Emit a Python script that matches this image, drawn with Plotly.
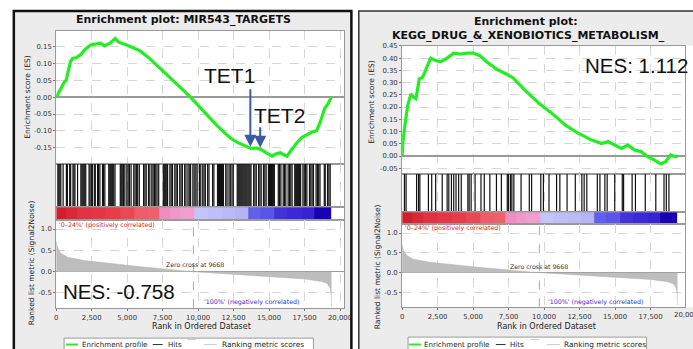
import plotly.graph_objects as go

W, H = 693, 349
def X(px): return px / W
def Y(py): return 1 - py / H

# ---------------- data ----------------
left_title = "Enrichment plot: MIR543_TARGETS"
right_title_1 = "Enrichment plot:"
right_title_2 = "KEGG_DRUG_&_XENOBIOTICS_METABOLISM_"

left_es_rank = [0, 150, 300, 575, 700, 920, 1000, 1150, 1400, 1730, 2000, 2420, 2800, 3110, 3400,
                3580, 3800, 4150, 4400, 4960, 5400, 5880, 6500, 7040, 7600, 8190, 8800, 9460,
                10100, 10730, 11300, 11880, 12300, 12800, 13300, 13720, 14100, 14420, 14800,
                15220, 15500, 15800, 16000, 16260, 16600, 16960, 17300, 17650, 18000, 18340,
                18600, 18910, 19150, 19380]
left_es_val = [0.0, 0.012, 0.02, 0.045, 0.05, 0.095, 0.105, 0.115, 0.117, 0.126, 0.14, 0.155, 0.158,
               0.16, 0.152, 0.156, 0.16, 0.174, 0.163, 0.155, 0.148, 0.138, 0.118, 0.097, 0.076,
               0.053, 0.027, 0.0, -0.03, -0.058, -0.083, -0.106, -0.122, -0.135, -0.145, -0.152,
               -0.151, -0.155, -0.165, -0.175, -0.168, -0.165, -0.170, -0.175, -0.155, -0.135,
               -0.120, -0.111, -0.104, -0.100, -0.075, -0.034, -0.02, 0.0]

right_es_rank = [0, 46, 163, 278, 394, 626, 800, 973, 1204, 1400, 1552, 1783, 2015, 2362, 2709,
                 3172, 3635, 4098, 4561, 5024, 5487, 5950, 6645, 7339, 7802, 8728, 9654, 10580,
                 11506, 12432, 13358, 14053, 14516, 14979, 15442, 15905, 16368, 16831, 17294,
                 17757, 18220, 18567, 18914, 19261, 19400]
right_es_val = [0.0, 0.051, 0.112, 0.159, 0.207, 0.254, 0.24, 0.234, 0.315, 0.32, 0.335, 0.369,
                0.40, 0.39, 0.385, 0.40, 0.42, 0.416, 0.42, 0.42, 0.41, 0.385, 0.355, 0.335, 0.32,
                0.265, 0.214, 0.173, 0.126, 0.092, 0.065, 0.051, 0.058, 0.045, 0.031, 0.045,
                0.024, 0.018, -0.003, -0.016, -0.032, -0.023, 0.004, -0.003, 0.0]

left_hits = [116, 185, 255, 324, 486, 718, 787, 949, 1019, 1181, 1250, 1320, 1505, 1737, 1806,
             1875, 1945, 2014, 2084, 2315, 2385, 2477, 2547, 2686, 2755, 2917, 2987, 3079, 3264,
             3334, 3426, 3704, 3774, 3843, 3913, 3982, 4052, 4144, 4515, 4584, 4653, 4746, 4839,
             4978, 5070, 5163, 5278, 5464, 5556, 5649, 5741, 5857, 6158, 6251, 6343, 6505, 6598,
             6737, 6829, 6922, 7015, 7107, 7223, 7547, 7617, 7686, 7756, 7848, 8010, 8103, 8195,
             8357, 8450, 8543, 8705, 8797, 8890, 9052, 9145, 9283, 9376, 9469, 9631, 9723, 9839,
             9932, 10094, 10186, 10325, 10418, 10510, 10672, 10765, 11020, 11112, 11367, 11436,
             11506, 11575, 11645, 11714, 11784, 11946, 12038, 12177, 12270, 12386, 12478, 12756,
             12825, 12895, 12964, 13034, 13103, 13173, 13242, 13312, 13381, 13450, 13520, 13589,
             13659, 13728, 13913, 14006, 14099, 14261, 14353, 14446, 14608, 14701, 14793, 14955,
             15025, 15094, 15164, 15233, 15302, 15372, 15650, 15742, 15835, 15997, 16090, 16182,
             16344, 16437, 16529, 16622, 16808, 16877, 16946, 17016, 17085, 17155, 17224, 17386,
             17479, 17571, 17664, 17849, 17942, 18034, 18127, 18312, 18405, 18497, 18590, 18891,
             18960, 19122, 19215, 19307]

right_hits = [162, 278, 1018, 1157, 1250, 1852, 2083, 2361, 2824, 3171, 3287, 3472, 3634, 3796,
              3982, 4167, 4630, 4722, 4861, 5139, 5556, 5787, 6181, 6644, 6991, 7408, 7500, 7639,
              7732, 7871, 8380, 8959, 9121, 9769, 9954, 10348, 10880, 11112, 11621, 12200, 12663,
              12825, 13010, 13751, 13936, 14283, 14445, 14978, 15510, 15603, 16205, 16437, 17131,
              17872, 18451, 18613, 18798]

metric_rank = [0, 100, 300, 800, 2000, 3500, 5000, 6500, 8000, 9668, 11500, 13500, 15500, 17500,
               18700, 19100, 19300, 19380, 19400]
metric_val = [0.70, 0.56, 0.44, 0.34, 0.26, 0.20, 0.15, 0.10, 0.05, 0.0, -0.04, -0.08, -0.12,
              -0.17, -0.23, -0.28, -0.38, -0.55, -0.82]

band_edges = [0, 700, 1500, 2500, 3500, 4500, 5500, 6500, 7250, 8000, 8700, 9700, 10700, 11700,
              12600, 13550, 14400, 15350, 16300, 17300, 18200, 19400]
band_values = [1.0, 0.95, 0.9, 0.88, 0.85, 0.8, 0.72, 0.7, 0.42, 0.38, 0.35, -0.22, -0.25, -0.27,
               -0.3, -0.62, -0.66, -0.8, -0.84, -0.86, -1.0]

zero_cross = 9668
x_ticks = [0, 2500, 5000, 7500, 10000, 12500, 15000, 17500, 20000]
x_ticktext = ["0", "2,500", "5,000", "7,500", "10,000", "12,500", "15,000", "17,500", "20,000"]
left_es_ticks = [-0.15, -0.10, -0.05, 0.0, 0.05, 0.10, 0.15]
left_es_text = ["-0.15", "-0.10", "-0.05", "0.00", "0.05", "0.10", "0.15"]
right_es_ticks = [-0.05, 0.0, 0.05, 0.10, 0.15, 0.20, 0.25, 0.30, 0.35, 0.40, 0.45]
right_es_text = ["-0.05", "0.00", "0.05", "0.10", "0.15", "0.20", "0.25", "0.30", "0.35", "0.40", "0.45"]
metric_ticks = [-0.5, 0.0, 0.5, 1.0]
metric_text = ["-0.5", "0.0", "0.5", "1.0"]
nes_left = "NES: -0.758"
nes_right = "NES: 1.112"
marker_genes = ["TET1", "TET2"]
marker_ranks = [13680, 14375]
marker_es = [-0.147, -0.150]

# ---------------- styling ----------------
GREEN = "#22ee22"
GRID = "#d6d6d6"
TICKF = dict(family="DejaVu Sans", size=6.9, color="#333")
PANEL = "#ececec"

band_colorscale = [
    [0.0, "#1a00b4"], [0.08, "#3c28d8"], [0.2, "#6464f0"], [0.35, "#b4b4f6"],
    [0.4, "#c8c8fa"], [0.5, "#ffffff"], [0.65, "#f2a8d8"], [0.72, "#ee88c0"],
    [0.85, "#f0606c"], [0.93, "#e83a48"], [1.0, "#d41e2e"],
]

fig = go.Figure()

panels = [
    dict(n=0, es_rank=left_es_rank, es_val=left_es_val, hits=left_hits,
         px0=55, px1=347, es=(28, 162), hit=(162, 206), cb=(206, 219), met=(219, 308),
         xr=[0, 20280], esr=[-0.197, 0.197], metr=[-0.86, 1.209],
         es_ticks=left_es_ticks, es_text=left_es_text),
    dict(n=4, es_rank=right_es_rank, es_val=right_es_val, hits=right_hits,
         px0=406, px1=693, es=(43, 172), hit=(172, 211), cb=(211, 223), met=(223, 307),
         xr=[0, 19930], esr=[-0.0716, 0.451], metr=[-0.875, 1.225],
         es_ticks=right_es_ticks, es_text=right_es_text),
]

layout_axes = {}
for p in panels:
    n = p["n"]
    ids = [n + 1, n + 2, n + 3, n + 4]
    dom_x = [X(p["px0"]), X(p["px1"])]
    rows = [p["es"], p["hit"], p["cb"], p["met"]]
    for k, (i, (t, b)) in enumerate(zip(ids, rows)):
        xa = dict(domain=dom_x, range=p["xr"], anchor="y%d" % i, showline=True, mirror=True,
                  linecolor="#999", linewidth=1, showgrid=(k != 2), gridcolor=GRID, griddash="dash",
                  gridwidth=1, tickvals=x_ticks, ticktext=x_ticktext, zeroline=False,
                  showticklabels=(k == 3), ticks="outside" if k == 3 else "", ticklen=2,
                  tickcolor="#777", tickfont=TICKF, fixedrange=True)
        ya = dict(domain=[Y(b), Y(t)], anchor="x%d" % i, showline=True, mirror=True,
                  linecolor="#999", linewidth=1, fixedrange=True, tickfont=TICKF,
                  gridcolor=GRID, griddash="dash", gridwidth=1)
        if k == 0:
            ya.update(range=p["esr"], tickvals=p["es_ticks"], ticktext=p["es_text"],
                      showgrid=True, zeroline=True, zerolinecolor="#999", zerolinewidth=1.5,
                      ticks="outside", ticklen=2, tickcolor="#777")
        elif k == 3:
            ya.update(range=p["metr"], tickvals=metric_ticks, ticktext=metric_text,
                      showgrid=True, zeroline=True, zerolinecolor="#999", zerolinewidth=1,
                      ticks="outside", ticklen=2, tickcolor="#777")
        else:
            ya.update(range=[0, 1], showgrid=False, zeroline=False, showticklabels=False, ticks="")
        layout_axes["xaxis%d" % i if i > 1 else "xaxis"] = xa
        layout_axes["yaxis%d" % i if i > 1 else "yaxis"] = ya

    fig.add_trace(go.Scatter(x=p["es_rank"], y=p["es_val"], mode="lines",
                             line=dict(color=GREEN, width=3.2), xaxis="x%d" % ids[0] if ids[0] > 1 else "x",
                             yaxis="y%d" % ids[0] if ids[0] > 1 else "y", hoverinfo="skip"))
    hx, hy = [], []
    for h in p["hits"]:
        hx += [h, h, None]
        hy += [0, 1, None]
    fig.add_trace(go.Scatter(x=hx, y=hy, mode="lines", line=dict(color="#111", width=1.2),
                             xaxis="x%d" % ids[1], yaxis="y%d" % ids[1], hoverinfo="skip"))
    fig.add_trace(go.Heatmap(x=band_edges, y=[0, 1], z=[band_values], zmin=-1, zmax=1,
                             colorscale=band_colorscale, showscale=False, hoverinfo="skip",
                             xaxis="x%d" % ids[2], yaxis="y%d" % ids[2]))
    fig.add_trace(go.Scatter(x=metric_rank, y=metric_val, mode="lines", fill="tozeroy",
                             fillcolor="#bdbdbd", line=dict(color="#b5b5b5", width=0.5),
                             xaxis="x%d" % ids[3], yaxis="y%d" % ids[3], hoverinfo="skip"))

fig.update_layout(**layout_axes)

shapes = []
def rect(x0, y0, x1, y1, fill=None, line=None, lw=0, layer="below"):
    shapes.append(dict(type="rect", xref="paper", yref="paper", x0=X(x0), x1=X(x1), y0=Y(y1), y1=Y(y0),
                       fillcolor=fill if fill else "rgba(0,0,0,0)",
                       line=dict(color=line if line else "rgba(0,0,0,0)", width=lw), layer=layer))
def hline(x0, x1, y, color, lw, dash="solid", layer="above"):
    shapes.append(dict(type="line", xref="paper", yref="paper", x0=X(x0), x1=X(x1), y0=Y(y), y1=Y(y),
                       line=dict(color=color, width=lw, dash=dash), layer=layer))

rect(12, 8, 355, 360, fill=PANEL)
rect(362, 8, 710, 360, fill=PANEL)
rect(55, 28, 347, 308, fill="white")
rect(406, 43, 710, 307, fill="white")
rect(355.5, 0, 361, 349, fill="white", layer="above")
rect(12, 8, 354.5, 360, line="#111", lw=2.5, layer="above")
rect(362, 8, 710, 360, line="#333", lw=1.5, layer="above")

for xa_, ya_ in (("x4", "y4"), ("x8", "y8")):
    shapes.append(dict(type="line", xref=xa_, yref=ya_ + " domain", x0=zero_cross, x1=zero_cross,
                       y0=0, y1=1, line=dict(color="#aaa", width=1, dash="dash"), layer="above"))

for off, box in ((0, (63, 338, 316, 353)), (348, (412, 337, 654, 353))):
    rect(box[0], box[1], box[2], box[3], fill="white", line="#999", lw=1, layer="above")
    hline(65 + off, 77 + off, 344.5, GREEN, 2)
    hline(153 + off, 163 + off, 344.5, "#333", 1)
    hline(188 + off, 197 + off, 339.5, "#ccc", 1)
    hline(205 + off, 218 + off, 344.5, "#ccc", 1)

fig.update_layout(shapes=shapes)

ann = []
def text(px, py, s, size=7, color="#222", family="DejaVu Sans", xanchor="center", bold=False, angle=0):
    if bold:
        s = "<b>%s</b>" % s
    ann.append(dict(x=X(px), y=Y(py), xref="paper", yref="paper", text=s, showarrow=False,
                    xanchor=xanchor, yanchor="middle", textangle=angle,
                    font=dict(family=family, size=size, color=color)))

text(184, 17, left_title, size=11, color="#111", bold=True)
text(532, 19, right_title_1, size=11, color="#111", bold=True)
text(534, 33, right_title_2, size=11, color="#111", bold=True)
for esy, mety, esx, metx in ((95, 262, 26, 30), (100, 266, 375, 381)):
    text(esx, esy, "Enrichment score (ES)", size=7.5, angle=-90)
    text(metx, mety, "Ranked list metric (Signal2Noise)", size=7.5, angle=-90)
text(202, 326, "Rank in Ordered Dataset", size=8)
text(552, 326, "Rank in Ordered Dataset", size=8)
text(56, 223.5, "'0–24%' (positively correlated)", size=6.3, color="#dd2020", xanchor="left")
text(407, 227, "'0–24%' (positively correlated)", size=6.3, color="#dd2020", xanchor="left")
text(203, 302, "'100%' (negatively correlated)", size=6.3, color="#3030cc", xanchor="left")
text(552, 302, "'100%' (negatively correlated)", size=6.3, color="#3030cc", xanchor="left")
text(196, 264, "Zero cross at 9668", size=6.2, color="#333")
text(545, 266, "Zero cross at 9668", size=6.2, color="#333")
text(694, 315, x_ticktext[-1], size=6.9, color="#333")
for off in (0, 347):
    text(79 + off, 344.5, "Enrichment profile", size=7.1, xanchor="left")
    text(166 + off, 344.5, "Hits", size=7.1, xanchor="left")
    text(221 + off, 344.5, "Ranking metric scores", size=7.4, xanchor="left")
text(60, 291, nes_left, size=20.5, color="#111", family="Liberation Sans", xanchor="left")
text(590, 63, nes_right, size=20.5, color="#111", family="Liberation Sans", xanchor="left")
text(231, 73.5, marker_genes[0], size=21, color="#111", family="Liberation Sans")
text(282, 113.5, marker_genes[1], size=21, color="#111", family="Liberation Sans")
for g, r, e, tail in zip(marker_genes, marker_ranks, marker_es, (-59, -22)):
    ann.append(dict(x=r, y=e, xref="x", yref="y", ax=0, ay=tail, text="", showarrow=True,
                    arrowhead=2, arrowsize=1.2, arrowwidth=2, arrowcolor="#3b5ba5"))

fig.update_layout(annotations=ann, width=W, height=H, margin=dict(l=0, r=0, t=0, b=0),
                  paper_bgcolor="white", plot_bgcolor="white", showlegend=False)

fig.write_html("out.html", config={"displayModeBar": False},
               post_script="document.body.style.margin='0';document.body.style.overflow='hidden';")
